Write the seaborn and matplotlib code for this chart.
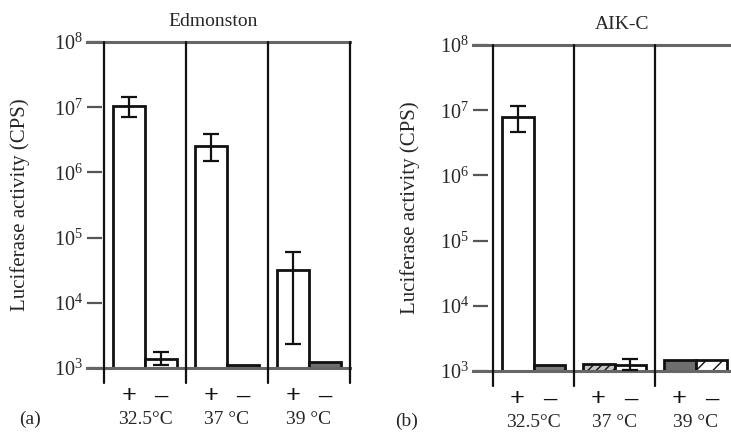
import numpy as np
import pandas as pd
import matplotlib
matplotlib.use('Agg')
import matplotlib.pyplot as plt
import seaborn as sns
from matplotlib.ticker import NullLocator

# categories
temps = ['32.5°C', '37 °C', '39 °C']
signs = ['+', '–']

# Edmonston, luciferase activity (CPS), order: 32.5+, 32.5-, 37+, 37-, 39+, 39-
edm_values = [1.05e7, 1.38e3, 2.5e6, 1.1e3, 3.2e4, 1.22e3]
edm_err_low = [7.0e6, 1.1e3, 1.5e6, np.nan, 2.3e3, np.nan]
edm_err_high = [1.45e7, 1.75e3, 3.9e6, np.nan, 6.0e4, np.nan]

# AIK-C
aik_values = [8.0e6, 1.25e3, 1.28e3, 1.25e3, 1.5e3, 1.5e3]
aik_err_low = [4.6e6, np.nan, np.nan, 1.05e3, np.nan, np.nan]
aik_err_high = [1.18e7, np.nan, np.nan, 1.55e3, np.nan, np.nan]

# bar fills of the scanned figure
edm_fill = ['white', 'white', 'white', '#6e6e6e', 'white', '#6e6e6e']
edm_hatch = [None, None, None, None, None, None]
aik_fill = ['white', '#7a7a7a', '#c4c4c4', 'white', '#6e6e6e', 'white']
aik_hatch = [None, None, '////', None, None, '//']

sns.set_theme(style='white')
plt.rcParams['font.family'] = ['Liberation Serif', 'DejaVu Serif']
plt.rcParams['mathtext.fontset'] = 'custom'
plt.rcParams['mathtext.rm'] = 'Liberation Serif'
plt.rcParams['hatch.color'] = '#333333'

fig = plt.figure(figsize=(7.31, 4.32), dpi=100)
W, H = 731, 432


def draw_panel(rect, values, err_low, err_high, fills, hatches, title, title_x, title_dy,
               label_x, left_pad):
    ax = fig.add_axes(rect)
    df = pd.DataFrame({'temp': np.repeat(temps, len(signs)),
                       'sign': signs * len(temps),
                       'value': values})
    sns.barplot(data=df, x='temp', y='value', hue='sign', order=temps, hue_order=signs,
                width=0.79, gap=0, palette=['white', 'white'], edgecolor='#111111',
                linewidth=2, errorbar=None, legend=False, ax=ax)
    ax.set_yscale('log')
    ax.set_ylim(1e3, 1e8)
    ax.set_xlim(-0.5 - left_pad, len(temps) - 0.5)

    bars = sorted(ax.patches, key=lambda p: p.get_x())
    for p, fc, h in zip(bars, fills, hatches):
        p.set_facecolor(fc)
        if h:
            p.set_hatch(h)

    centers = np.array([p.get_x() + p.get_width() / 2 for p in bars])
    vals = np.array(values)
    lo = np.array(err_low)
    hi = np.array(err_high)
    m = ~np.isnan(lo)
    ax.errorbar(centers[m], vals[m], yerr=[vals[m] - lo[m], hi[m] - vals[m]], fmt='none',
                ecolor='#111111', elinewidth=1.6, capsize=6, capthick=1.6, zorder=5)

    # group separators, running below the axis
    for b in np.arange(len(temps) + 1) - 0.5:
        ax.plot([b, b], [1, -0.045], transform=ax.get_xaxis_transform(), color='#111111',
                lw=1.6, clip_on=False, zorder=6)

    for s in ['left', 'right']:
        ax.spines[s].set_visible(False)
    for s in ['top', 'bottom']:
        ax.spines[s].set_color('#666666')
        ax.spines[s].set_linewidth(2.2)

    ax.set_yticks(10.0 ** np.arange(3, 9))
    ax.yaxis.set_minor_locator(NullLocator())
    ax.tick_params(axis='y', which='major', direction='in', length=11, width=1.6,
                   color='#555555', pad=3, labelsize=14.5, left=True)
    ax.set_xticks(range(len(temps)))
    ax.set_xticklabels(temps)
    ax.tick_params(axis='x', length=0, pad=31, labelsize=14)
    ax.set_xlabel('')

    for c, s in zip(centers, signs * len(temps)):
        ax.text(c, -0.107, s, transform=ax.get_xaxis_transform(), ha='center',
                va='baseline', fontsize=19, fontweight='bold', color='#111111')

    ax.set_ylabel('Luciferase activity (CPS)', fontsize=15)
    ax.yaxis.set_label_coords(label_x, 0.5)
    ax.text(title_x, 1 + title_dy, title, transform=ax.transAxes, ha='center', va='center',
            fontsize=14)
    return ax


draw_panel([87 / W, 1 - 368 / H, 263 / W, 326 / H], edm_values, edm_err_low, edm_err_high,
           edm_fill, edm_hatch, 'Edmonston', 0.479, 21 / 326, -0.215, 17 / 82)
draw_panel([473 / W, 1 - 371 / H, 263 / W, 326 / H], aik_values, aik_err_low, aik_err_high,
           aik_fill, aik_hatch, 'AIK-C', 0.567, 20 / 326, -0.20, 20 / 81)

fig.text(30 / W, 1 - 419 / H, '(a)', ha='center', va='center', fontsize=14)
fig.text(407 / W, 1 - 421 / H, '(b)', ha='center', va='center', fontsize=14)

fig.savefig('out.png', dpi=100)
